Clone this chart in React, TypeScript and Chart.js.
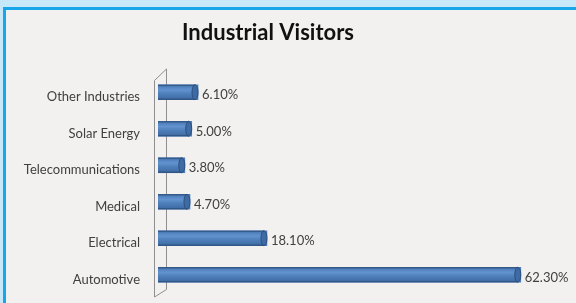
import React, { useEffect, useRef } from "react";
import { Chart, registerables } from "chart.js";

Chart.register(...registerables);

const categories = [
  "Other Industries",
  "Solar Energy",
  "Telecommunications",
  "Medical",
  "Electrical",
  "Automotive",
];
const shares = [6.1, 5.0, 3.8, 4.7, 18.1, 62.3];
const chartTitle = "Industrial Visitors";

const X_MIN = -0.87;
const X_MAX = 70;
const FONT = "Lato, 'Open Sans', sans-serif";

const wallPlugin = {
  id: "wall",
  beforeDatasetsDraw(chart: any) {
    const { ctx, chartArea } = chart;
    const xs = chart.scales.x;
    const l = chartArea.left - 3.5;
    const r = xs.getPixelForValue(0) + 3.5;
    const t = chartArea.top;
    const b = chartArea.bottom;
    ctx.save();
    ctx.strokeStyle = "#8e8e8e";
    ctx.lineWidth = 1;
    ctx.beginPath();
    ctx.moveTo(l, b + 4);
    ctx.lineTo(l, t + 6.5);
    ctx.lineTo(r, t - 5);
    ctx.lineTo(r, b - 3.5);
    ctx.lineTo(l, b + 4);
    ctx.stroke();
    ctx.restore();
  },
};

const cylinderPlugin = {
  id: "cylinder",
  afterDatasetsDraw(chart: any) {
    const { ctx } = chart;
    const meta = chart.getDatasetMeta(0);
    ctx.save();
    meta.data.forEach((el: any, i: number) => {
      const { x, y, base, height } = el.getProps(["x", "y", "base", "height"], true);
      const h = height;
      const top = y - h / 2;
      const rx = 3;
      const g = ctx.createLinearGradient(0, top, 0, top + h);
      g.addColorStop(0, "#3a6396");
      g.addColorStop(0.15, "#5283c0");
      g.addColorStop(0.35, "#6393cf");
      g.addColorStop(0.6, "#4e7fbb");
      g.addColorStop(0.88, "#426fa8");
      g.addColorStop(1, "#315b8c");
      ctx.fillStyle = g;
      ctx.fillRect(base, top, x - rx - base, h);
      // end cap
      ctx.beginPath();
      ctx.ellipse(x - rx, y, rx, h / 2, 0, 0, Math.PI * 2);
      ctx.fillStyle = "#3f6ba4";
      ctx.fill();
      ctx.strokeStyle = "#2c4f7e";
      ctx.lineWidth = 1;
      ctx.stroke();
      // outline
      ctx.beginPath();
      ctx.moveTo(base, top + 0.5);
      ctx.lineTo(x - rx, top + 0.5);
      ctx.moveTo(base, top + h - 0.5);
      ctx.lineTo(x - rx, top + h - 0.5);
      ctx.strokeStyle = "rgba(45,75,120,0.75)";
      ctx.stroke();
      // label
      ctx.fillStyle = "#404040";
      ctx.font = `13px ${FONT}`;
      ctx.textAlign = "left";
      ctx.textBaseline = "middle";
      ctx.fillText(shares[i].toFixed(2) + "%", x + 4, y + 3);
    });
    ctx.restore();
  },
};

const titlePlugin = {
  id: "customTitle",
  afterDraw(chart: any) {
    const { ctx } = chart;
    ctx.save();
    ctx.fillStyle = "#111111";
    ctx.font = `bold 22px ${FONT}`;
    ctx.textAlign = "center";
    ctx.textBaseline = "middle";
    ctx.fillText(chartTitle, 262, 23);
    ctx.restore();
  },
};

export default function App() {
  const ref = useRef<HTMLCanvasElement | null>(null);

  useEffect(() => {
    if (!ref.current) return;
    const chart = new Chart(ref.current, {
      type: "bar",
      data: {
        labels: categories,
        datasets: [
          {
            data: shares,
            base: X_MIN,
            backgroundColor: "#4f81bd",
            barThickness: 15,
          } as any,
        ],
      },
      options: {
        indexAxis: "y",
        animation: false,
        responsive: true,
        maintainAspectRatio: false,
        devicePixelRatio: 1,
        layout: { padding: { top: 64, bottom: 10, left: 0, right: 11 } },
        plugins: {
          legend: { display: false },
          title: { display: false },
          tooltip: { enabled: false },
        },
        scales: {
          x: { display: false, min: X_MIN, max: X_MAX },
          y: {
            type: "category",
            offset: true,
            grid: { display: false, drawTicks: false },
            border: { display: false },
            ticks: {
              padding: 18,
              labelOffset: 5,
              color: "#404040",
              font: { family: FONT, size: 13 },
            },
            afterFit: (s: any) => {
              s.width = 152;
              s.paddingTop = 0;
              s.paddingBottom = 0;
            },
          },
        },
      },
      plugins: [wallPlugin, cylinderPlugin, titlePlugin],
    });
    return () => chart.destroy();
  }, []);

  return (
    <div
      style={{
        position: "fixed",
        left: 0,
        top: 0,
        width: 576,
        height: 303,
        background: "#c6e8f8",
        overflow: "hidden",
      }}
    >
      <div
        style={{
          position: "absolute",
          left: 3,
          top: 7,
          width: 570,
          height: 293,
          borderLeft: "3px solid #17a6e8",
          borderTop: "3px solid #17a6e8",
          background: "#f2f1f0",
        }}
      >
        <div style={{ position: "relative", width: 570, height: 293 }}>
          <canvas ref={ref} />
        </div>
      </div>
    </div>
  );
}
